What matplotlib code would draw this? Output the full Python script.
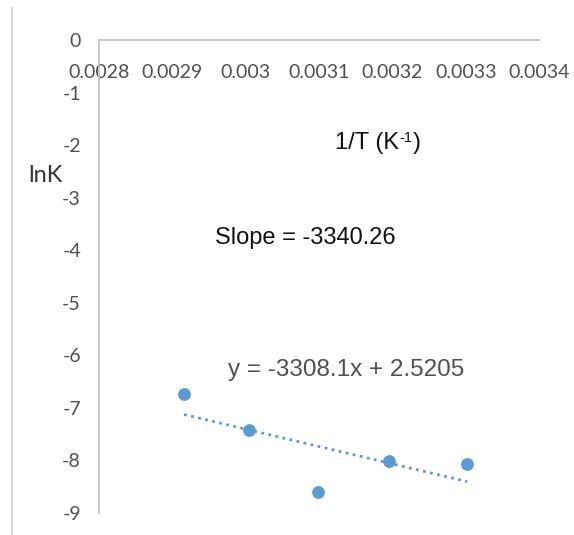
import matplotlib
matplotlib.use("Agg")
import matplotlib.pyplot as plt
from matplotlib.lines import Line2D
import numpy as np

plt.rcParams["axes.unicode_minus"] = False

# 1/T (K^-1) and lnK
invT = [0.002916, 0.003004, 0.003098, 0.003196, 0.003302]
lnK = [-6.74, -7.42, -8.60, -8.02, -8.06]

# trendline shown on the chart
fitSlope = -3308.1
fitIntercept = 2.5205

xTicks = [0.0028, 0.0029, 0.003, 0.0031, 0.0032, 0.0033, 0.0034]
xTickLabels = ["0.0028", "0.0029", "0.003", "0.0031", "0.0032", "0.0033", "0.0034"]
yTicks = [0, -1, -2, -3, -4, -5, -6, -7, -8, -9]

blue = "#5B9BD5"
axisGrey = "#BFBFBF"
labelGrey = "#505050"

fig = plt.figure(figsize=(5.74, 5.35), dpi=100)
ax = fig.add_axes([99 / 574, 1 - 513 / 535, (539 - 99) / 574, (513 - 40) / 535])

ax.scatter(invT, lnK, s=85, color=blue, zorder=3, linewidths=0)

xs = np.array([min(invT), max(invT)])
ax.plot(xs, fitSlope * xs + fitIntercept, color=blue, lw=2.0,
        linestyle=(0, (1, 1.6)), zorder=2)

ax.set_xlim(0.0028, 0.0034)
ax.set_ylim(-9, 0)

# x axis sits at y = 0 (top), labels underneath it, like Excel
for side in ["right", "top"]:
    ax.spines[side].set_visible(False)
ax.spines["bottom"].set_position(("data", 0))
ax.spines["bottom"].set_color(axisGrey)
ax.spines["bottom"].set_linewidth(1.2)
ax.spines["left"].set_color(axisGrey)
ax.spines["left"].set_linewidth(1.2)

ax.set_xticks(xTicks)
ax.set_xticklabels(xTickLabels)
ax.set_yticks(yTicks)
ax.set_yticklabels([str(v) for v in yTicks])
ax.tick_params(axis="x", length=0, pad=17, labelsize=14, labelcolor=labelGrey)
ax.tick_params(axis="y", length=0, pad=13, labelsize=14, labelcolor=labelGrey)
for lab in ax.get_xticklabels() + ax.get_yticklabels():
    lab.set_fontfamily("Lato")

# "1/T (K" then a small raised "-1" then ")"
t1 = fig.text(335 / 574, 1 - 143 / 535, "1/T (K", fontsize=17,
              family="Liberation Sans", ha="left", va="center", color="#111111")
fig.canvas.draw()
bb = t1.get_window_extent()
t2 = fig.text(bb.x1 / 574 / 1.0 + 0.5 / 574, 1 - 138 / 535, "-1", fontsize=10.5,
              family="Liberation Sans", ha="left", va="center", color="#111111")
fig.canvas.draw()
bb2 = t2.get_window_extent()
fig.text(bb2.x1 / 574 + 0.5 / 574, 1 - 143 / 535, ")", fontsize=17,
         family="Liberation Sans", ha="left", va="center", color="#111111")

fig.text(45 / 574, 1 - 176 / 535, "lnK", fontsize=17, family="Lato",
         ha="center", va="center", color="#333333")
fig.text(305 / 574, 1 - 238 / 535, "Slope = -3340.26", fontsize=17,
         family="Liberation Sans", ha="center", va="center", color="#111111")
fig.text(346 / 574, 1 - 370 / 535, "y = -3308.1x + 2.5205", fontsize=17.5,
         family="Liberation Sans", ha="center", va="center", color=labelGrey)

# light border on the left edge of the chart area
fig.add_artist(Line2D([12 / 574, 12 / 574], [0, 1 - 8 / 535],
                      color="#D9D9D9", lw=1.5))

fig.savefig("out.png", dpi=100)
